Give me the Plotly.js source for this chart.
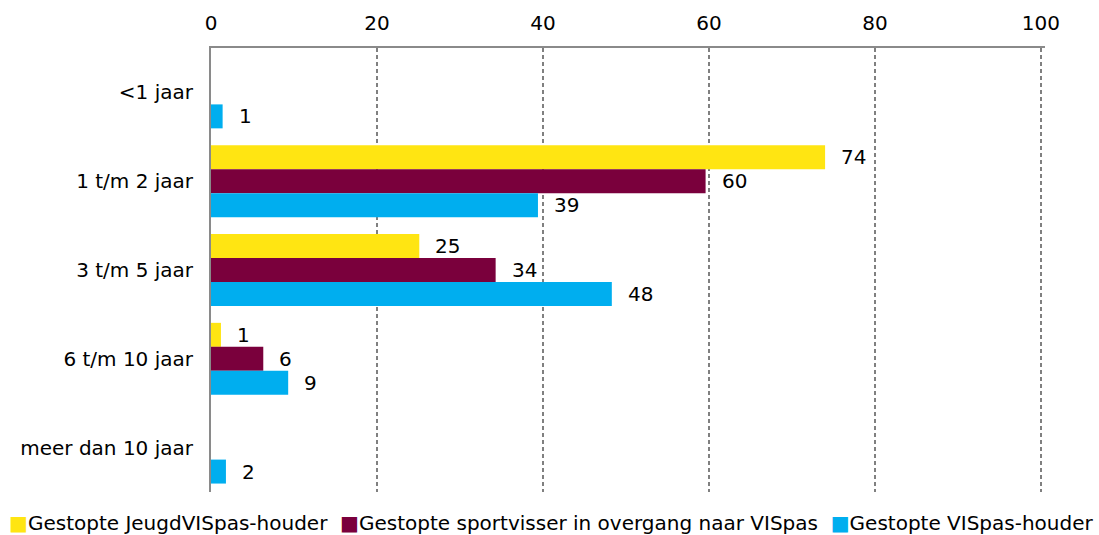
<!DOCTYPE html>
<html>
<head>
<meta charset="utf-8">
<script src="https://cdn.plot.ly/plotly-3.0.1.min.js"></script>
<style>html,body{margin:0;padding:0;background:#fff;}#chart{width:1099px;height:535px;}</style>
</head>
<body>
<div id="chart"></div>
<script>
var categories = ['<1 jaar', '1 t/m 2 jaar', '3 t/m 5 jaar', '6 t/m 10 jaar', 'meer dan 10 jaar'];
var seriesNames = ['Gestopte JeugdVISpas-houder', 'Gestopte sportvisser in overgang naar VISpas', 'Gestopte VISpas-houder'];
var jeugdValues = [null, 74.0, 25.1, 1.2, null];
var overgangValues = [null, 59.6, 34.3, 6.3, null];
var vispasValues = [1.4, 39.4, 48.3, 9.3, 1.8];
var xTicks = [0, 20, 40, 60, 80, 100];

var colors = ['#FFE512', '#7A003C', '#00AEEF'];
var allValues = [jeugdValues, overgangValues, vispasValues];
var FONT = 'DejaVu Sans, sans-serif';
var FS = 20;

var traces = allValues.map(function (vals, k) {
  return {
    type: 'bar', orientation: 'h', name: seriesNames[k],
    y: categories, x: vals,
    marker: {color: colors[k], line: {width: 0}},
    hoverinfo: 'x+name', showlegend: false
  };
});

var bargap = 0.19;
var nT = allValues.length;
var bw = (1 - bargap) / nT;
var annotations = [];
allValues.forEach(function (vals, k) {
  var off = -(1 - bargap) / 2 + bw * (k + 0.5);
  vals.forEach(function (v, i) {
    if (v === null) return;
    annotations.push({
      xref: 'x', yref: 'y', x: v, y: i + off,
      text: String(Math.round(v)), showarrow: false,
      xanchor: 'left', yanchor: 'middle', xshift: 14,
      font: {family: FONT, size: FS, color: '#000'}
    });
  });
});

// legend line built from series names and colours
var legendText = seriesNames.map(function (n, k) {
  return '<span style="color:' + colors[k] + '">■</span>' + n;
}).join('\u00a0\u00a0');
var L = 211, R = 54;
annotations.push({
  xref: 'paper', yref: 'paper',
  x: (551 - L) / (1099 - L - R), y: 0, yshift: -31,
  xanchor: 'center', yanchor: 'middle', showarrow: false,
  text: legendText,
  font: {family: FONT, size: FS, color: '#000'}
});

var layout = {
  width: 1099, height: 535,
  margin: {l: L, r: R, t: 48, b: 43},
  paper_bgcolor: '#fff', plot_bgcolor: '#fff',
  barmode: 'group', bargap: bargap, bargroupgap: 0,
  showlegend: false,
  font: {family: FONT, size: FS, color: '#000'},
  xaxis: {
    side: 'top', range: [0, 100.5], tickvals: xTicks, ticktext: xTicks.map(String),
    showgrid: true, gridcolor: '#808080', griddash: '4px,3px', gridwidth: 1.4,
    showline: true, linecolor: '#8a8a8a', linewidth: 2, mirror: false,
    zeroline: false, ticks: '', ticklabelstandoff: 8,
    tickfont: {family: FONT, size: FS, color: '#000'}, fixedrange: true
  },
  yaxis: {
    type: 'category', autorange: 'reversed',
    showgrid: false, zeroline: false,
    showline: true, linecolor: '#8a8a8a', linewidth: 2,
    ticks: '', ticklabelstandoff: 12,
    tickfont: {family: FONT, size: FS, color: '#000'}, fixedrange: true
  },
  annotations: annotations
};

Plotly.newPlot('chart', traces, layout, {displayModeBar: false, staticPlot: true});
</script>
</body>
</html>
